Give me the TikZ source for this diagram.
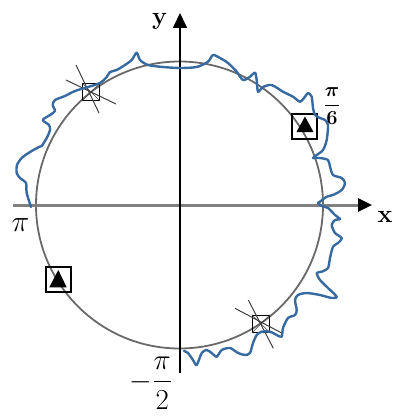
\RequirePackage{fix-cm}
\documentclass[tikz,border=0pt]{standalone}
\usepackage{amsmath}
\usetikzlibrary{arrows.meta,calc}
\definecolor{curveblue}{RGB}{55,106,160}
\definecolor{circgray}{RGB}{105,105,105}
\definecolor{axgray}{RGB}{128,128,128}
\begin{document}
\begin{tikzpicture}[x=1pt,y=-1pt,
  circ/.style={draw=circgray,line width=1.8pt},
  xax/.style={draw=axgray,line width=3pt,-{Triangle[length=14pt,width=13pt,fill=black,color=black]}},
  yax/.style={draw=black,line width=1.7pt,-{Triangle[length=15pt,width=14pt]}},
  wavy/.style={draw=curveblue,line width=2.4pt,line join=round,line cap=round},
  starbox/.style={draw=black,line width=1.3pt,minimum width=17pt,minimum height=17pt,inner sep=0pt},
  tribox/.style={draw=black,line width=2pt,minimum width=25pt,minimum height=25pt,inner sep=0pt},
  ray/.style={draw=black!75,line width=1pt},
  lab/.style={inner sep=0pt}
]
\useasboundingbox (0,0) rectangle (392,417);
\coordinate (O) at (179.5,205);
\coordinate (xs) at (13,205);
\coordinate (xe) at (372,205);
\coordinate (ys) at (180,373);
\coordinate (ye) at (180,13);
% circle
\draw[circ] (O) circle (143.5);
% axes
\draw[xax] (xs) -- (xe);
\draw[yax] (ys) -- (ye);
% markers with rays
\node[starbox] (s1) at (91,92) {};
\draw[ray] ($(s1)+(-15,-27)$) -- ($(s1)+(8,21)$);
\draw[ray] ($(s1)+(-25,-12)$) -- ($(s1)+(25,12)$);
\draw[ray,line width=0.6pt] (s1.north west) -- (s1.south east) (s1.north east) -- (s1.south west);
\node[starbox] (s2) at (261,323.7) {};
\draw[ray] ($(s2)+(-26,-15.4)$) -- ($(s2)+(20.7,9.3)$);
\draw[ray] ($(s2)+(-12.7,-23.7)$) -- ($(s2)+(12.3,24.6)$);
\draw[ray,line width=0.6pt] (s2.north west) -- (s2.south east) (s2.north east) -- (s2.south west);
% triangle markers
\node[tribox] (t1) at (304.5,126) {};
\fill[black] ($(t1)+(0.5,-9.5)$) -- ($(t1)+(9,6)$) -- ($(t1)+(-8,6)$) -- cycle;
\node[tribox] (t2) at (58,279) {};
\fill[black] ($(t2)+(0.3,-9)$) -- ($(t2)+(8.7,8.3)$) -- ($(t2)+(-8.7,8.3)$) -- cycle;
% wavy curve
\draw[wavy] plot[smooth,tension=0.45] coordinates {
(31,207) (26.7,193) (26,183) (20,178) (16.7,173) (17,165) (21.7,158) (30,152)
(39,147) (41.7,146) (46.7,138) (50,130) (49,125) (42.7,120) (50,115) (55,111)
(52.7,105) (55,100) (65,96) (75,91) (88,87) (100,83) (106.7,77) (110,72)
(116.7,70) (125,65) (131.7,60) (136.7,52.7) (140,60) (148,65) (163,67) (180,68)
(196.7,67) (208,61.7) (213,55) (220,58) (228,63) (236.7,71.7) (243,80) (250,76.7)
(255,72.7) (256.7,80) (258,91.7) (263,87) (271.7,85) (283,91.7) (293,96.7) (300,101.7)
(305,96.7) (308,93) (311.7,96.7) (313,108) (315,115) (320,118) (325,120) (328,125)
(326.7,140) (323,150) (316.7,155) (313,158) (320,158) (328,160) (330,166.7) (333,175)
(341.7,178) (345,183) (341.7,190) (333,195) (326.7,196.7) (320,201.7) (318,203) (321.7,206)
(328,208) (335,215) (340,219) (335,220) (331.7,225) (335,233) (341.7,238) (338,243)
(333,246.7) (330,258) (328,268) (321.7,271.7) (316.7,273) (320,280) (328,288) (336.7,296.7)
(331.7,298) (320,295) (306.7,293) (298,295) (295,300) (296.7,310) (295,315) (288,318)
(283,328) (281.7,336.7) (276.7,335) (270,331.7) (261.7,331.7) (256.7,335) (253,343) (250,353)
(245,355) (238,353) (230,348) (221.7,350) (216.7,356.7) (211.7,353) (206.7,350) (201.7,353)
(196.7,365) (193,360) (188,353) (184,351)};
% labels
\node[lab,font=\fontsize{25}{28}\selectfont\bfseries] (ylab) at (159.5,21.5) {y};
\node[lab,font=\fontsize{25}{28}\selectfont\bfseries] (xlab) at (385,217) {x};
\node[lab,font=\fontsize{30}{34}\selectfont] (pil) at (20.5,225.5) {$\pi$};
\node[lab,font=\fontsize{20}{24}\selectfont] (pi6) at (332,106) {$\dfrac{\boldsymbol{\pi}}{\mathbf{6}}$};
\node[lab,font=\fontsize{29}{34}\selectfont] (pi2) at (151,383) {$-\dfrac{\pi}{2}$};
\end{tikzpicture}
\end{document}
